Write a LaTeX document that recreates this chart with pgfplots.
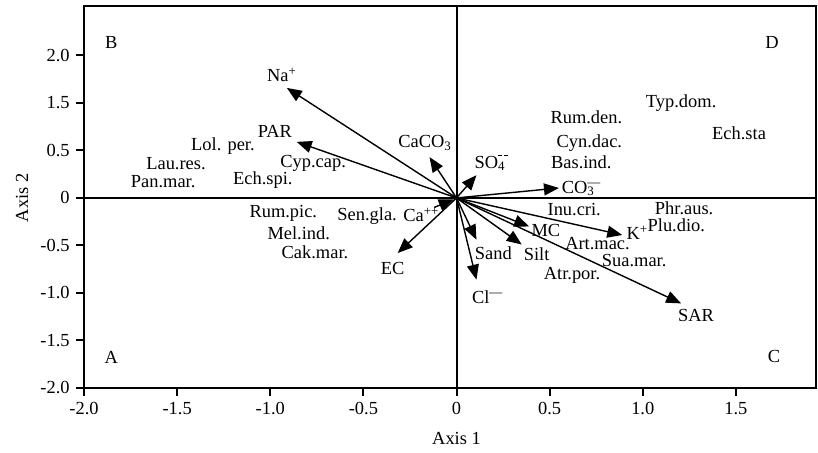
\documentclass[border=0pt]{standalone}
\usepackage{pgfplots}
\pgfplotsset{compat=1.18}
\usetikzlibrary{arrows.meta}
\usepackage{fontspec}
\setmainfont{Liberation Serif}
\newcommand{\dd}{\rule[0.45em]{0.32em}{0.13em}}
\begin{document}
\fontsize{18.5}{21}\selectfont
\begin{tikzpicture}
\begin{axis}[
  name=main,
  scale only axis, width=732bp, height=382bp,
  xmin=-2, xmax=1.93, ymin=-2, ymax=2.02,
  axis line style={line width=2bp},
  xtick={-2,-1.5,-1,-0.5,0,0.5,1,1.5},
  xticklabels={-2.0,-1.5,-1.0,-0.5,0,0.5,1.0,1.5},
  ytick={-2,-1.5,-1,-0.5,0,0.5,1,1.5},
  yticklabels={-2.0,-1.5,-1.0,-0.5,0,0.5,1.5,2.0},
  tick align=outside, tick pos=left,
  major tick length=8bp,
  tick style={line width=2bp, black},
  tick label style={font=\fontsize{18.5}{21}\selectfont},
  xlabel={Axis 1}, ylabel={Axis 2},
  every axis x label/.style={at={(axis description cs:0.5089,0)}, anchor=center, yshift=-50bp},
  every axis y label/.style={at={(axis description cs:0,0.4975)}, anchor=center, xshift=-62bp, rotate=90},
  clip=false,
]
\draw[line width=2bp] (axis cs:-2,0) -- (axis cs:1.93,0);
\draw[line width=2bp] (axis cs:0,-2) -- (axis cs:0,2.02);

\pgfplotsset{arr/.style={black, line width=1.4bp, -{Triangle[length=15bp,width=12bp]}}}
\addplot[arr] coordinates {(0,0) (-0.911,1.158)};  % Na+
\addplot[arr] coordinates {(0,0) (-0.858,0.59)};   % PAR
\addplot[arr] coordinates {(0,0) (-0.145,0.43)};   % CaCO3
\addplot[arr] coordinates {(0,0) (0.107,0.24)};    % SO4
\addplot[arr] coordinates {(0,0) (0.55,0.105)};    % CO3
\addplot[arr] coordinates {(-0.12,-0.10) (-0.015,-0.015)}; % Ca++
\addplot[arr] coordinates {(0,0) (-0.316,-0.58)};  % EC
\addplot[arr] coordinates {(0,0) (0.107,-0.44)};   % Sand
\addplot[arr] coordinates {(0,0) (0.107,-0.86)};   % Cl
\addplot[arr] coordinates {(0,0) (0.35,-0.49)};    % Silt
\addplot[arr] coordinates {(0,0) (0.39,-0.30)};    % MC
\addplot[arr] coordinates {(0,0) (0.89,-0.39)};    % K+
\addplot[arr] coordinates {(0,0) (1.206,-1.11)};   % SAR

\node at (axis cs:-0.938,1.295) {Na\textsuperscript{+}};
\node at (axis cs:-0.975,0.705) {PAR};
\node at (axis cs:-1.254,0.547) {Lol. per.};
\node at (axis cs:-1.506,0.358) {Lau.res.};
\node at (axis cs:-1.575,0.168) {Pan.mar.};
\node at (axis cs:-0.77,0.368) {Cyp.cap.};
\node at (axis cs:-1.04,0.19) {Ech.spi.};
\node at (axis cs:-0.17,0.58) {CaCO\textsubscript{3}};
\node at (axis cs:0.188,0.37) {SO\rlap{\textsubscript{4}}\textsuperscript{\dd\kern0.12em\dd}};
\node at (axis cs:0.697,0.85) {Rum.den.};
\node at (axis cs:0.713,0.58) {Cyn.dac.};
\node at (axis cs:0.67,0.38) {Bas.ind.};
\node at (axis cs:0.67,0.10) {CO\rlap{\textsubscript{3}}\textsuperscript{—}};
\node at (axis cs:1.206,1.0) {Typ.dom.};
\node at (axis cs:1.517,0.68) {Ech.sta};
\node at (axis cs:0.632,-0.12) {Inu.cri.};
\node at (axis cs:1.222,-0.11) {Phr.aus.};
\node at (axis cs:1.18,-0.285) {Plu.dio.};
\node at (axis cs:0.97,-0.37) {K\textsuperscript{+}};
\node at (axis cs:0.48,-0.34) {MC};
\node at (axis cs:0.757,-0.48) {Art.mac.};
\node at (axis cs:0.954,-0.66) {Sua.mar.};
\node at (axis cs:0.62,-0.82) {Atr.por.};
\node at (axis cs:0.198,-0.58) {Sand};
\node at (axis cs:0.43,-0.59) {Silt};
\node at (axis cs:0.166,-1.04) {Cl\textsuperscript{—}};
\node at (axis cs:1.286,-1.24) {SAR};
\node at (axis cs:-0.19,-0.18) {Ca\textsuperscript{++}};
\node at (axis cs:-0.343,-0.74) {EC};
\node at (axis cs:-0.93,-0.16) {Rum.pic.};
\node at (axis cs:-0.48,-0.19) {Sen.gla.};
\node at (axis cs:-0.847,-0.37) {Mel.ind.};
\node at (axis cs:-0.76,-0.57) {Cak.mar.};
\node at (axis cs:-1.854,-1.68) {A};
\node at (axis cs:-1.854,1.64) {B};
\node at (axis cs:1.704,-1.67) {C};
\node at (axis cs:1.694,1.64) {D};
\end{axis}
\path ([xshift=-84bp,yshift=-65bp]main.south west) rectangle ([xshift=2bp,yshift=6bp]main.north east);
\end{tikzpicture}
\end{document}
